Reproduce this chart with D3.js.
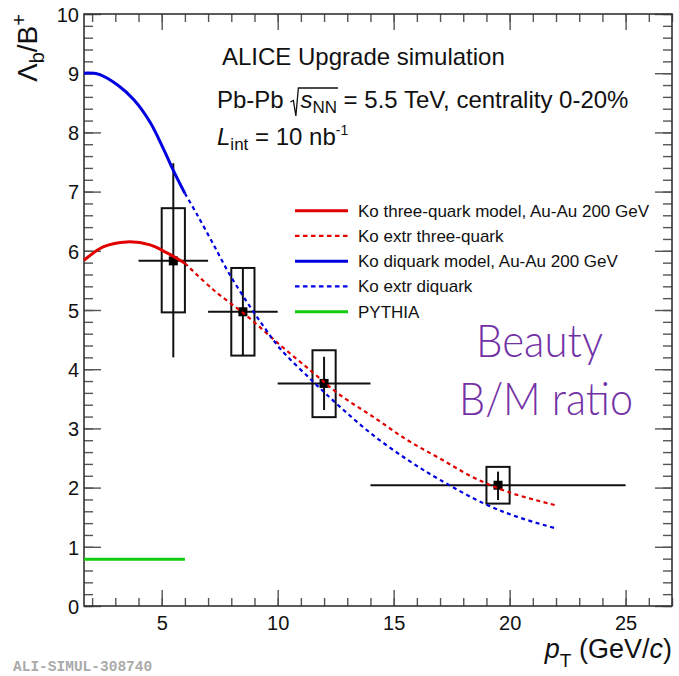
<!DOCTYPE html>
<html>
<head>
<meta charset="utf-8">
<script src="https://cdn.jsdelivr.net/npm/d3@7"></script>
<style>
  html, body { margin: 0; padding: 0; background: #fff; }
  svg { display: block; }
  text { white-space: pre; }
</style>
</head>
<body>
<svg id="chart" width="679" height="676" font-family="Liberation Sans, Arial, Helvetica, sans-serif" fill="#111"></svg>
<script>
// ---------------- data ----------------
const pT        = [5.5, 8.5, 12, 19.5];
const ratio     = [5.83, 4.97, 3.76, 2.04];
const pTLow     = [4, 7, 10, 14];
const pTHigh    = [7, 10, 14, 25];
const statLow   = [4.20, 4.23, 3.31, 1.79];
const statHigh  = [7.48, 5.71, 4.21, 2.27];
const systLow   = [4.96, 4.23, 3.19, 1.73];
const systHigh  = [6.72, 5.71, 4.32, 2.35];
const systHalfWidth = 0.5;

const threeQuarkPt  = [1.65, 2.5, 3.5, 4.5, 5.25, 6.0];
const threeQuarkVal = [5.84, 6.07, 6.15, 6.10, 5.96, 5.79];
const threeQuarkExtrPt  = [6.0, 7.2, 8.7, 10.1, 11.5, 12.7, 14.1, 15.6, 17.0, 18.4, 19.9, 22.0];
const threeQuarkExtrVal = [5.79, 5.35, 4.89, 4.41, 3.95, 3.56, 3.20, 2.80, 2.49, 2.18, 1.93, 1.70];

const diquarkPt  = [1.65, 2.3, 3.1, 3.8, 4.5, 5.1, 5.5, 6.0];
const diquarkVal = [9.00, 8.98, 8.80, 8.55, 8.17, 7.70, 7.36, 6.97];
const diquarkExtrPt  = [6.0, 6.5, 7.2, 7.9, 8.7, 9.4, 10.1, 11.5, 12.7, 14.1, 15.6, 17.0, 18.9, 20.3, 22.0];
const diquarkExtrVal = [6.97, 6.63, 6.13, 5.62, 5.12, 4.72, 4.35, 3.80, 3.36, 2.89, 2.47, 2.13, 1.73, 1.51, 1.31];

const pythiaPt  = [1.65, 6.0];
const pythiaVal = [0.79, 0.79];

const xMajorTicks = [5, 10, 15, 20, 25];
const yMajorTicks = [0, 1, 2, 3, 4, 5, 6, 7, 8, 9, 10];

const legendLabels = [
  "Ko three-quark model, Au-Au 200 GeV",
  "Ko extr three-quark",
  "Ko diquark model, Au-Au 200 GeV",
  "Ko extr diquark",
  "PYTHIA"
];

// ---------------- layout ----------------
const svg = d3.select("#chart");
const L = 84, R = 672, T = 14, B = 606;
const x = d3.scaleLinear().domain([1.65, 27]).range([L, R]);
const y = d3.scaleLinear().domain([0, 10]).range([B, T]);

const RED = "#e00000", BLUE = "#0000e0", GREEN = "#10cc10";
const AX = "#333";

// ---------------- axes ----------------
const xMinor = d3.range(2, 28, 1).filter(v => v <= 27);
const yMinor = d3.range(0, 10.001, 0.2).map(v => +v.toFixed(1));

function axisGroup(axis, tx, ty) {
  const g = svg.append("g").attr("transform", `translate(${tx},${ty})`).call(axis);
  g.select(".domain").remove();
  return g;
}
axisGroup(d3.axisBottom(x).tickValues(xMinor).tickSize(-8).tickFormat(""), 0, B);
const gx2 = axisGroup(d3.axisBottom(x).tickValues(xMajorTicks).tickSize(-16).tickFormat(d3.format("d")), 0, B);
gx2.selectAll("text").attr("font-size", 20).attr("fill", "#111")
   .attr("dy", "0.71em").attr("y", 10);
axisGroup(d3.axisTop(x).tickValues(xMinor).tickSize(-8).tickFormat(""), 0, T);
axisGroup(d3.axisTop(x).tickValues(xMajorTicks).tickSize(-16).tickFormat(""), 0, T);

axisGroup(d3.axisLeft(y).tickValues(yMinor).tickSize(-9).tickFormat(""), L, 0);
const gy2 = axisGroup(d3.axisLeft(y).tickValues(yMajorTicks).tickSize(-17).tickFormat(d3.format("d")), L, 0);
gy2.selectAll("text").attr("font-size", 20).attr("fill", "#111")
   .attr("x", -5).attr("dy", "0.36em");
axisGroup(d3.axisRight(y).tickValues(yMinor).tickSize(-9).tickFormat(""), R, 0);
axisGroup(d3.axisRight(y).tickValues(yMajorTicks).tickSize(-17).tickFormat(""), R, 0);

svg.selectAll(".tick line").attr("stroke", "#555").attr("stroke-width", 1.4);
svg.selectAll("g").attr("font-family", null);

svg.append("rect").attr("x", L).attr("y", T).attr("width", R - L).attr("height", B - T)
  .attr("fill", "none").attr("stroke", AX).attr("stroke-width", 1.6);

// ---------------- data points ----------------
const pts = pT.map((d, i) => ({ x: d, y: ratio[i], xl: pTLow[i], xh: pTHigh[i],
  sl: statLow[i], sh: statHigh[i], yl: systLow[i], yh: systHigh[i] }));
const gp = svg.append("g");
gp.selectAll("rect.syst").data(pts).join("rect")
  .attr("x", d => x(d.x - systHalfWidth)).attr("width", d => x(d.x + systHalfWidth) - x(d.x - systHalfWidth))
  .attr("y", d => y(d.yh)).attr("height", d => y(d.yl) - y(d.yh))
  .attr("fill", "none").attr("stroke", "#111").attr("stroke-width", 2);
gp.selectAll("line.h").data(pts).join("line")
  .attr("x1", d => x(d.xl)).attr("x2", d => x(d.xh)).attr("y1", d => y(d.y)).attr("y2", d => y(d.y))
  .attr("stroke", "#111").attr("stroke-width", 2);
gp.selectAll("line.v").data(pts).join("line")
  .attr("x1", d => x(d.x)).attr("x2", d => x(d.x)).attr("y1", d => y(d.sl)).attr("y2", d => y(d.sh))
  .attr("stroke", "#111").attr("stroke-width", 2);
gp.selectAll("rect.m").data(pts).join("rect")
  .attr("x", d => x(d.x) - 4.5).attr("y", d => y(d.y) - 4.5).attr("width", 9).attr("height", 9)
  .attr("fill", "#000");

// ---------------- curves ----------------
const line = d3.line().x(d => x(d[0])).y(d => y(d[1])).curve(d3.curveCatmullRom.alpha(0.5));
const zip = (a, b) => a.map((v, i) => [v, b[i]]);
const curves = [
  { d: zip(threeQuarkExtrPt, threeQuarkExtrVal), c: RED, w: 2.2, dash: "4,3.5" },
  { d: zip(diquarkExtrPt, diquarkExtrVal), c: BLUE, w: 2.2, dash: "4,3.5" },
  { d: zip(threeQuarkPt, threeQuarkVal), c: RED, w: 3, dash: null },
  { d: zip(diquarkPt, diquarkVal), c: BLUE, w: 3, dash: null },
  { d: zip(pythiaPt, pythiaVal), c: GREEN, w: 3, dash: null }
];
curves.forEach(cv => {
  svg.append("path").attr("d", line(cv.d)).attr("fill", "none")
    .attr("stroke", cv.c).attr("stroke-width", cv.w).attr("stroke-dasharray", cv.dash);
});

// ---------------- legend ----------------
const legendStyles = [
  { c: RED, dash: null, w: 3 }, { c: RED, dash: "4.5,3.5", w: 2.2 },
  { c: BLUE, dash: null, w: 3 }, { c: BLUE, dash: "4.5,3.5", w: 2.2 },
  { c: GREEN, dash: null, w: 3 }
];
const lg = svg.append("g");
legendLabels.forEach((lab, i) => {
  const yy = 210.7 + i * 25.25;
  lg.append("line").attr("x1", 295).attr("x2", 348).attr("y1", yy).attr("y2", yy)
    .attr("stroke", legendStyles[i].c).attr("stroke-width", legendStyles[i].w)
    .attr("stroke-dasharray", legendStyles[i].dash);
  lg.append("text").attr("x", 358).attr("y", yy + 6).attr("font-size", 17).text(lab);
});

// ---------------- header texts ----------------
svg.append("text").attr("x", 222).attr("y", 65).attr("font-size", 24).text("ALICE Upgrade simulation");

function richLine(x0, base, pieces) {
  let cx = x0;
  const pos = {};
  pieces.forEach(p => {
    if (p.gap) { pos[p.mark || "gap"] = cx; cx += p.gap; return; }
    if (p.mark) pos[p.mark] = cx;
    const el = svg.append("text").attr("x", cx).attr("y", base + (p.dy || 0))
      .attr("font-size", p.fs).attr("font-style", p.it ? "italic" : null)
      .attr("xml:space", "preserve").text(p.t);
    cx += el.node().getComputedTextLength();
    if (p.endMark) pos[p.endMark] = cx;
  });
  return pos;
}

// Pb-Pb line with radical
(function () {
  const base = 108, fs = 24;
  const pos = richLine(217, base, [
    { t: "Pb-Pb ", fs },
    { gap: 10, mark: "rad" },
    { t: "s", fs, it: true },
    { t: "NN", fs: 17, dy: 5, endMark: "sEnd" },
    { t: " = 5.5 TeV, centrality 0-20%", fs }
  ]);
  const rx0 = pos.rad, sEnd = pos.sEnd + 1;
  svg.append("path")
    .attr("d", `M${rx0},${base - 6} L${rx0 + 3},${base - 7.5} L${rx0 + 5.5},${base + 8} L${rx0 + 8},${base - 20} L${sEnd},${base - 20}`)
    .attr("fill", "none").attr("stroke", "#111").attr("stroke-width", 1.3);
})();

// L_int line
richLine(217, 145, [
  { t: "L", fs: 24, it: true },
  { t: "int", fs: 17, dy: 5 },
  { t: " = 10 nb", fs: 24 },
  { t: "-1", fs: 14, dy: -10 }
]);

// Beauty B/M ratio
svg.append("text").attr("x", 476).attr("y", 357)
  .attr("font-family", "Lato, sans-serif").attr("font-weight", 300).attr("font-size", 45)
  .attr("textLength", 127).attr("lengthAdjust", "spacingAndGlyphs")
  .attr("fill", "#7232a6").text("Beauty");
svg.append("text").attr("x", 459).attr("y", 415)
  .attr("font-family", "Lato, sans-serif").attr("font-weight", 300).attr("font-size", 45)
  .attr("textLength", 174).attr("lengthAdjust", "spacingAndGlyphs")
  .attr("fill", "#7232a6").text("B/M ratio");

// ---------------- axis titles ----------------
const xt = svg.append("text").attr("x", R).attr("y", 658).attr("text-anchor", "end").attr("font-size", 27);
xt.append("tspan").attr("font-style", "italic").text("p");
xt.append("tspan").attr("font-size", 19).attr("dy", 9).text("T");
xt.append("tspan").attr("dy", -9).text(" (GeV/");
xt.append("tspan").attr("font-style", "italic").text("c");
xt.append("tspan").text(")");

const yt = svg.append("text").attr("transform", `translate(37,${T}) rotate(-90)`)
  .attr("text-anchor", "end").attr("font-size", 28);
yt.append("tspan").text("Λ");
yt.append("tspan").attr("font-size", 20).attr("dy", 7).text("b");
yt.append("tspan").attr("dy", -7).text("/B");
yt.append("tspan").attr("font-size", 20).attr("dy", -11).text("+");

// watermark
svg.append("text").attr("x", 13).attr("y", 671).attr("font-family", "Liberation Mono, monospace")
  .attr("font-weight", "bold").attr("font-size", 14.5).attr("fill", "#aaa").text("ALI-SIMUL-308740");
</script>
</body>
</html>
